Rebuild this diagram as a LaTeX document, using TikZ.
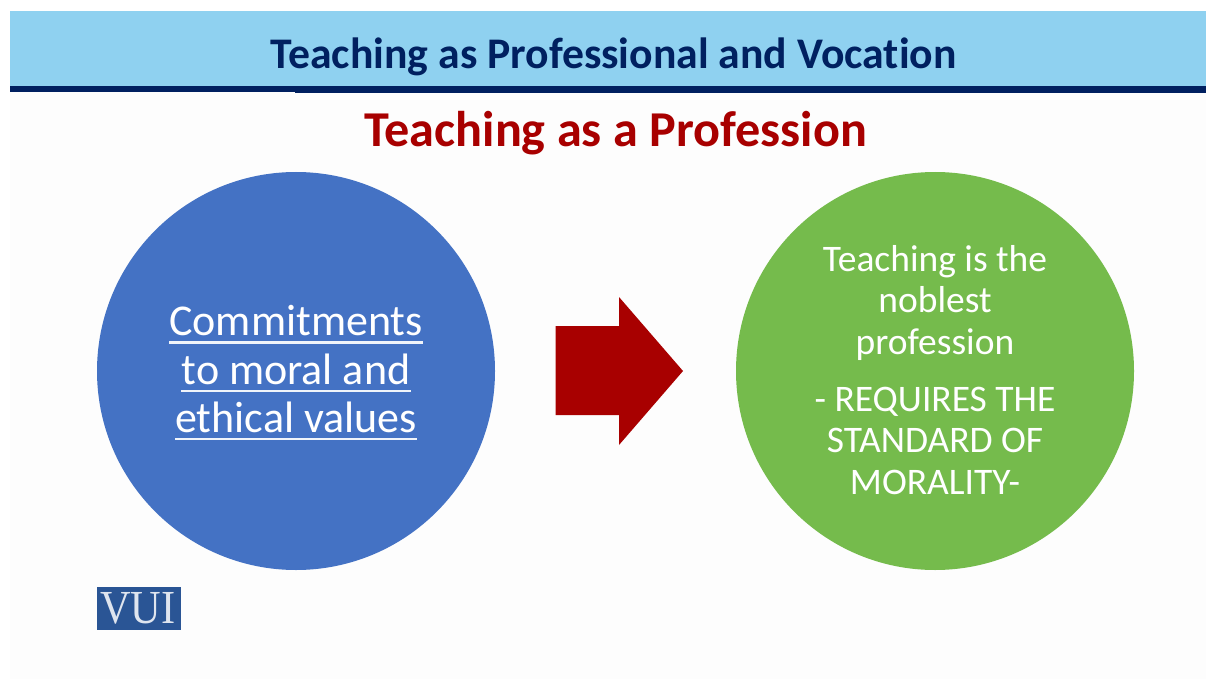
\documentclass[tikz,border=0pt]{standalone}
\usepackage{fontspec}
\setmainfont[Ligatures=CommonOff]{Carlito}
\newfontfamily\logofont{Liberation Serif}
\definecolor{bandblue}{HTML}{8FD1F0}
\definecolor{navy}{HTML}{002060}
\definecolor{redtitle}{HTML}{A80000}
\definecolor{circblue}{HTML}{4472C4}
\definecolor{circgreen}{HTML}{75BB4C}
\definecolor{logoblue}{HTML}{2A5595}
\definecolor{pagebg}{HTML}{FDFDFD}
\tikzset{
  circlenode/.style={circle,draw=none,minimum size=398pt,inner sep=0pt},
  headtext/.style={font=\bfseries\fontsize{43.7}{46}\selectfont,text=navy,inner sep=0pt,anchor=base},
  subtext/.style={font=\bfseries\fontsize{50.2}{52}\selectfont,text=redtitle,inner sep=0pt,anchor=base},
  leftline/.style={font=\fontsize{44}{46}\selectfont,text=white,inner sep=0pt,anchor=base},
  rightline/.style={font=\fontsize{37.5}{40}\selectfont,text=white,inner sep=0pt,anchor=base},
  underrule/.style={draw=white!92!circblue,line width=2.6pt},
}
\begin{document}
\begin{tikzpicture}[x=1pt,y=-1pt]
\useasboundingbox (0,0) rectangle (1206,679);
\fill[white] (0,0) rectangle (1206,679);
\fill[pagebg] (10,92) rectangle (1206,679);
\fill[bandblue] (10,11) rectangle (1206,86);
\fill[navy] (10,86) rectangle (1206,92);
\fill[navy] (295,92) rectangle (1206,93);
\node[headtext] (head) at (613.5,69) {Teaching as Professional and Vocation};
\node[subtext] (sub) at (615.5,147) {Teaching as a Profession};
\node[circlenode,fill=circblue] (left) at (296,371) {};
\node[circlenode,fill=circgreen] (right) at (935,371) {};
\fill[redtitle] (555.5,326) -- (619,326) -- (619,297) -- (683,371) -- (619,445) -- (619,415) -- (555.5,415) -- cycle;
\node[leftline] (l1) at (296,335) {Commitments};
\node[leftline] (l2) at (296,384) {to moral and};
\node[leftline] (l3) at (296,432) {ethical values};
\draw[underrule] ([yshift=-7.5pt]l1.base west) -- ([yshift=-7.5pt]l1.base east);
\draw[underrule] ([yshift=-7pt]l2.base west) -- ([yshift=-7pt]l2.base east);
\draw[underrule] ([yshift=-7pt]l3.base west) -- ([yshift=-7pt]l3.base east);
\node[rightline] (r1) at (935,271) {Teaching is the};
\node[rightline] (r2) at (935,312) {noblest};
\node[rightline] (r3) at (935,354) {profession};
\node[rightline] (r4) at (935,411) {- REQUIRES THE};
\node[rightline] (r5) at (935,452) {STANDARD OF};
\node[rightline] (r6) at (935,494) {MORALITY-};
\node[fill=logoblue,minimum width=84pt,minimum height=43pt,inner sep=0pt] (logo) at (139,608.5) {};
\node[font=\logofont\fontsize{46}{46}\selectfont,text=white!85!logoblue,inner sep=0pt] (logotext) at (138,608.5) {\scalebox{0.92}[1.03]{VUI}};
\end{tikzpicture}
\end{document}
